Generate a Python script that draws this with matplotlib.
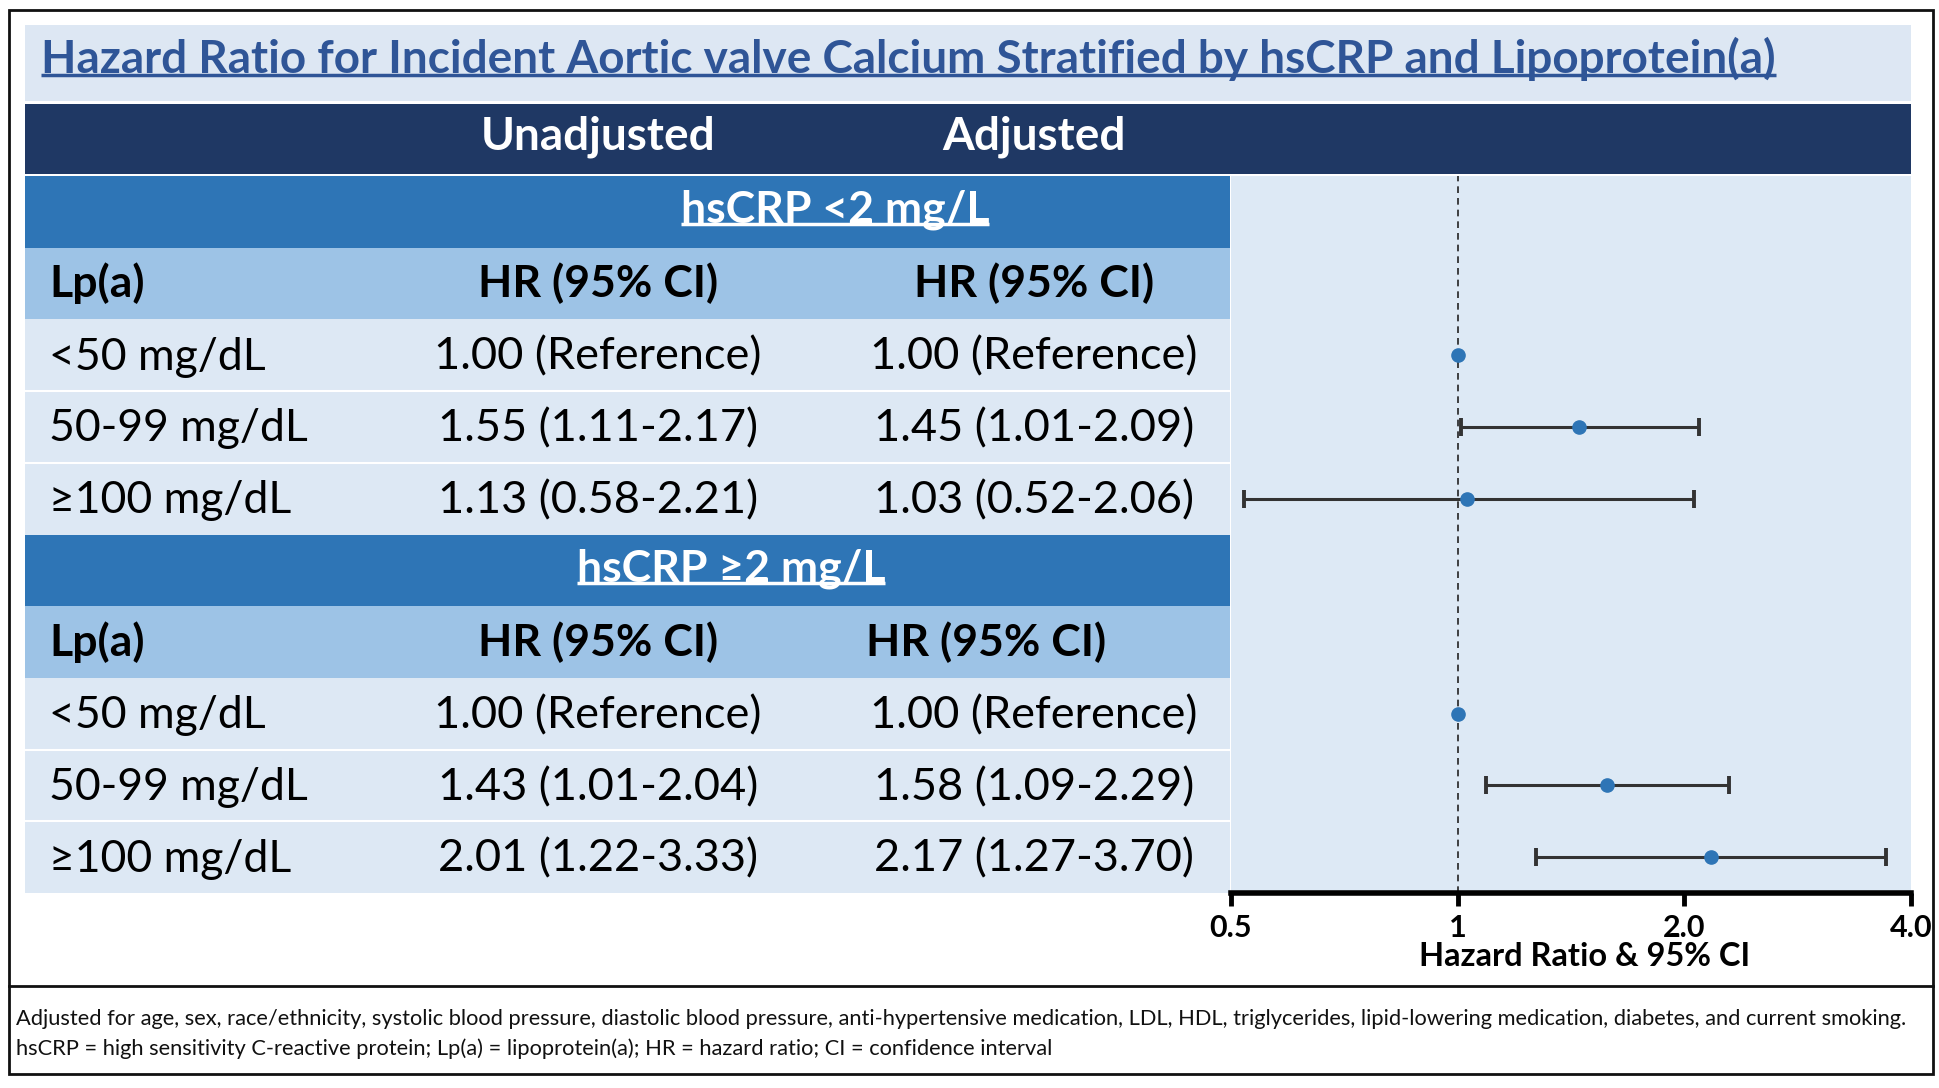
import matplotlib
matplotlib.use("Agg")
import matplotlib.pyplot as plt
from matplotlib.patches import Rectangle
from matplotlib.ticker import FixedLocator, FixedFormatter, NullLocator

plt.rcParams["font.family"] = ["Lato", "DejaVu Sans"]

# ── data ──────────────────────────────────────────────────────────────────────
TITLE = "Hazard Ratio for Incident Aortic valve Calcium Stratified by hsCRP and Lipoprotein(a)"
COLUMNS = ["Unadjusted", "Adjusted"]
STRATA = ["hsCRP <2 mg/L", "hsCRP \u22652 mg/L"]
LPA_LEVELS = ["<50 mg/dL", "50-99 mg/dL", "\u2265100 mg/dL"]

# one list per hsCRP stratum; None = reference group
unadj_hr = [[1.00, 1.55, 1.13], [1.00, 1.43, 2.01]]
unadj_lo = [[None, 1.11, 0.58], [None, 1.01, 1.22]]
unadj_hi = [[None, 2.17, 2.21], [None, 2.04, 3.33]]
adj_hr = [[1.00, 1.45, 1.03], [1.00, 1.58, 2.17]]
adj_lo = [[None, 1.01, 0.52], [None, 1.09, 1.27]]
adj_hi = [[None, 2.09, 2.06], [None, 2.29, 3.70]]

AXIS_TICKS = [0.5, 1, 2, 4]
AXIS_LABELS = ["0.5", "1", "2.0", "4.0"]
AXIS_TITLE = "Hazard Ratio & 95% CI"

FOOTNOTE = [
    "Adjusted for age, sex, race/ethnicity, systolic blood pressure, diastolic blood pressure, "
    "anti-hypertensive medication, LDL, HDL, triglycerides, lipid-lowering medication, diabetes, "
    "and current smoking.",
    "hsCRP = high sensitivity C-reactive protein; Lp(a) = lipoprotein(a); HR = hazard ratio; "
    "CI = confidence interval",
]

# ── style / layout (figure pixels) ───────────────────────────────────────────
NAVY = "#1f3864"
MID = "#2e75b6"
SUB = "#9dc3e6"
ROW = "#dde8f4"
PANEL = "#dde9f5"
TITLE_BG = "#dde7f3"
TITLE_FG = "#2f5597"
DOT = "#2e75b6"

W, H = 1940, 1088
L, R = 25, 1911          # inner box
SPLIT = 1230             # table | forest
TOP, BOT = 176, 893      # table body
NSLOT = 10
SLOT = (BOT - TOP) / NSLOT
X_LEFT = 49
X_COL = [598, 1034]
X_SUB2 = [598, 986]
X_BAND = [835, 731]
FS = 32.5
FOOT_W = 1902            # width the first footnote line should span


def fmt(hr, lo, hi):
    if lo is None:
        return f"{hr:.2f} (Reference)"
    return f"{hr:.2f} ({lo:.2f}-{hi:.2f})"


def slot_y(i):
    return TOP + (i + 0.5) * SLOT


fig = plt.figure(figsize=(W / 100, H / 100), dpi=100)
ax = fig.add_axes([0, 0, 1, 1])
ax.set_xlim(0, W)
ax.set_ylim(H, 0)
ax.axis("off")

# frame + title band + header band
ax.add_patch(Rectangle((9, 10), 1924, 1064, fill=False, ec="#111", lw=2))
ax.plot([9, 1933], [986, 986], color="#111", lw=2)
ax.add_patch(Rectangle((L, 25), R - L, 76, color=TITLE_BG, lw=0))
ax.add_patch(Rectangle((L, 104), R - L, 70, color=NAVY, lw=0))

underline = []
t = ax.text(41, 59, TITLE, color=TITLE_FG, fontsize=33, fontweight="bold",
            ha="left", va="center")
underline.append((t, TITLE_FG, 2.5))
for x, c in zip(X_COL, COLUMNS):
    ax.text(x, 137, c, color="white", fontsize=33, fontweight="bold",
            ha="center", va="center")

# table body
for g in range(2):
    base = g * 5
    y0 = TOP + base * SLOT
    ax.add_patch(Rectangle((L, y0), SPLIT - L, SLOT, color=MID, lw=0))
    ax.add_patch(Rectangle((L, y0 + SLOT), SPLIT - L, SLOT, color=SUB, lw=0))
    ax.add_patch(Rectangle((L, y0 + 2 * SLOT), SPLIT - L, 3 * SLOT, color=ROW, lw=0))
    for k in range(1, 3):
        yy = y0 + (2 + k) * SLOT
        ax.plot([L, SPLIT], [yy, yy], color="white", lw=1.5)
    t = ax.text(X_BAND[g], slot_y(base) - 2, STRATA[g], color="white", fontsize=32,
                fontweight="bold", ha="center", va="center")
    underline.append((t, "white", 2.5))
    xs = X_COL if g == 0 else X_SUB2
    ax.text(X_LEFT, slot_y(base + 1), "Lp(a)", fontsize=32, fontweight="bold",
            ha="left", va="center")
    for x in xs:
        ax.text(x, slot_y(base + 1), "HR (95% CI)", fontsize=32, fontweight="bold",
                ha="center", va="center")
    for r, lvl in enumerate(LPA_LEVELS):
        y = slot_y(base + 2 + r) + 2
        ax.text(X_LEFT, y, lvl, fontsize=32, ha="left", va="center")
        ax.text(X_COL[0], y, fmt(unadj_hr[g][r], unadj_lo[g][r], unadj_hi[g][r]),
                fontsize=FS, ha="center", va="center")
        ax.text(X_COL[1], y, fmt(adj_hr[g][r], adj_lo[g][r], adj_hi[g][r]),
                fontsize=FS, ha="center", va="center")

foot = [ax.text(16, 1019 + 30 * i, line, fontsize=16, ha="left", va="center", color="#111")
        for i, line in enumerate(FOOTNOTE)]

# forest plot (adjusted estimates)
fx = fig.add_axes([(SPLIT + 1) / W, (H - BOT) / H, (R - SPLIT - 1) / W, (BOT - TOP) / H])
fx.set_facecolor(PANEL)
fx.set_xscale("log")
fx.set_xlim(AXIS_TICKS[0], AXIS_TICKS[-1])
fx.set_ylim(NSLOT, 0)
fx.axvline(1, color="#222", lw=1.2, ls=(0, (4, 3)), zorder=1)
for g in range(2):
    for r in range(3):
        y = g * 5 + 2 + r + 0.5
        hr, lo, hi = adj_hr[g][r], adj_lo[g][r], adj_hi[g][r]
        if lo is not None:
            fx.errorbar(hr, y, xerr=[[hr - lo], [hi - hr]], fmt="none", ecolor="#333",
                        elinewidth=2.2, capsize=6.5, capthick=2.8, zorder=2)
        fx.plot(hr, y, "o", color=DOT, ms=9.5, zorder=3)
for s in ["left", "right", "top"]:
    fx.spines[s].set_visible(False)
fx.spines["bottom"].set_linewidth(4)
fx.yaxis.set_major_locator(NullLocator())
fx.xaxis.set_major_locator(FixedLocator(AXIS_TICKS))
fx.xaxis.set_major_formatter(FixedFormatter(AXIS_LABELS))
fx.xaxis.set_minor_locator(NullLocator())
fx.tick_params(axis="x", length=9, width=3.5, pad=6, labelsize=22)
for lb in fx.get_xticklabels():
    lb.set_fontweight("bold")
fx.set_xlabel(AXIS_TITLE, fontsize=23.5, fontweight="bold")
fx.xaxis.set_label_coords(0.52, -0.068)

# fit footnote width, then underline title and stratum bands
fig.canvas.draw()
rend = fig.canvas.get_renderer()
w0 = foot[0].get_window_extent(rend).width
for t in foot:
    t.set_fontsize(16 * FOOT_W / w0)

inv = ax.transData.inverted()
for t, col, lw in underline:
    bb = t.get_window_extent(rend)
    (x0, y0), (x1, y1) = inv.transform([(bb.x0, bb.y0), (bb.x1, bb.y1)])
    yb = y0 - 0.14 * (y0 - y1)
    ax.plot([x0, x1], [yb, yb], color=col, lw=lw, solid_capstyle="butt")

fig.savefig("out.png", dpi=100)
